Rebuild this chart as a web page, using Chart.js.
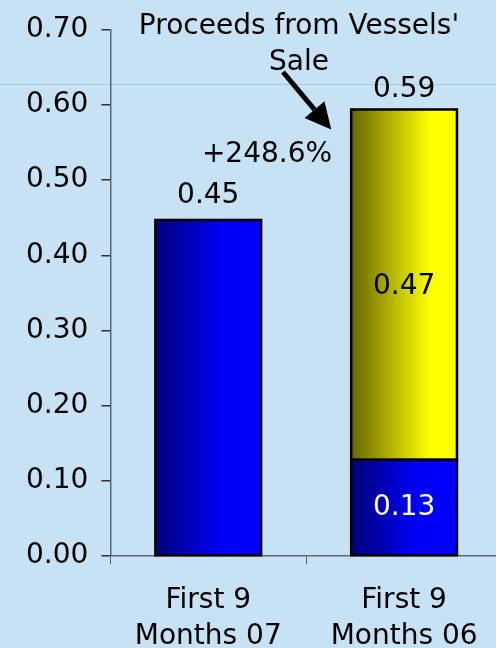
<!DOCTYPE html>
<html>
<head>
<meta charset="utf-8">
<script src="https://cdn.jsdelivr.net/npm/chart.js@4/dist/chart.umd.min.js"></script>
<style>
  html, body { margin: 0; padding: 0; background: #C6E2F4; width: 496px; height: 648px; overflow: hidden; }
  #wrap { position: absolute; left: 0; top: 0; width: 512px; height: 674px; }
</style>
</head>
<body>
<div id="wrap"><canvas id="chart" width="512" height="674"></canvas></div>
<script>
// Net income per share, first nine months
const categories = [['First 9', 'Months 07'], ['First 9', 'Months 06']];
const operatingValues = [0.447, 0.128];   // blue segments
const vesselSaleValues = [null, 0.466];   // yellow segment
const yMin = 0, yMax = 0.7, yStep = 0.1;
const growthText = '+248.6%';
const noteLines = ["Proceeds from Vessels'", 'Sale'];

const FONT = { family: '"DejaVu Sans", Verdana, sans-serif', size: 28 };
const FONT_CSS = '28px "DejaVu Sans", Verdana, sans-serif';
const BAR_PCT = 0.54;

function barGradient(ctx, stops) {
  const chart = ctx.chart;
  const xs = chart.scales.x;
  const fallback = stops[stops.length - 1][1];
  if (!xs || !(xs.width > 0)) return fallback;
  const cx = xs.getPixelForValue(ctx.dataIndex);
  const half = (xs.width / categories.length) * BAR_PCT / 2;
  if (!isFinite(cx) || !isFinite(half)) return fallback;
  const g = chart.ctx.createLinearGradient(cx - half, 0, cx + half, 0);
  stops.forEach(s => g.addColorStop(s[0], s[1]));
  return g;
}
const blueStops = [[0, '#00007A'], [0.62, '#0000F8'], [1, '#0000FF']];
const yellowStops = [[0, '#666600'], [0.75, '#FFFF00'], [1, '#FFFF00']];

const divider = {
  id: 'divider',
  beforeDraw(chart) {
    const c = chart.ctx;
    // slide divider line
    c.save();
    c.strokeStyle = '#A9CBE0';
    c.lineWidth = 1;
    c.beginPath();
    c.moveTo(0, 84.5);
    c.lineTo(chart.width, 84.5);
    c.stroke();
    c.restore();
  }
};

const labels = {
  id: 'labels',
  afterDatasetsDraw(chart) {
    const c = chart.ctx;
    c.save();

    // black outlines centred on each segment edge
    c.strokeStyle = '#000';
    c.lineWidth = 2.5;
    chart.data.datasets.forEach((ds, i) => {
      chart.getDatasetMeta(i).data.forEach((bar, j) => {
        if (ds.data[j] == null) return;
        const { x, y, base, width } = bar.getProps(['x', 'y', 'base', 'width'], true);
        c.strokeRect(x - width / 2, y, width, base - y);
      });
    });

    c.font = FONT_CSS;
    c.textAlign = 'center';
    const m0 = chart.getDatasetMeta(0).data;
    const m1 = chart.getDatasetMeta(1).data;

    // first period: single bar, total above
    const b0 = m0[0];
    c.fillStyle = '#000';
    c.textBaseline = 'alphabetic';
    c.fillText(operatingValues[0].toFixed(2), b0.x, b0.y - 17);

    // second period: stacked segments
    const lo = m0[1], hi = m1[1];
    c.textBaseline = 'middle';
    c.fillStyle = '#FFF';
    c.fillText(operatingValues[1].toFixed(2), lo.x, (lo.y + lo.base) / 2);
    c.fillStyle = '#000';
    c.fillText(vesselSaleValues[1].toFixed(2), hi.x, (hi.y + hi.base) / 2 + 2);
    c.textBaseline = 'alphabetic';
    const total = operatingValues[1] + vesselSaleValues[1];
    c.fillText(total.toFixed(2), hi.x, hi.y - 12);

    // growth and note
    c.fillText(growthText, 267, 162);
    c.fillText(noteLines[0], 299, 34);
    c.fillText(noteLines[1], 299, 70);

    // arrow toward the vessel-sale segment
    const tipX = hi.x - hi.width / 2 - 20, tipY = hi.y + 20;
    const tailX = 283, tailY = 72;
    const ang = Math.atan2(tipY - tailY, tipX - tailX);
    const headLen = 26, headW = 13;
    const bx = tipX - headLen * Math.cos(ang), by = tipY - headLen * Math.sin(ang);
    c.lineWidth = 5;
    c.beginPath();
    c.moveTo(tailX, tailY);
    c.lineTo(bx, by);
    c.stroke();
    c.beginPath();
    c.moveTo(tipX, tipY);
    c.lineTo(bx + headW * Math.sin(ang), by - headW * Math.cos(ang));
    c.lineTo(bx - headW * Math.sin(ang), by + headW * Math.cos(ang));
    c.closePath();
    c.fillStyle = '#000';
    c.fill();
    c.restore();
  }
};

new Chart(document.getElementById('chart'), {
  type: 'bar',
  data: {
    labels: categories,
    datasets: [
      {
        data: operatingValues,
        backgroundColor: ctx => barGradient(ctx, blueStops),
        borderWidth: 0
      },
      {
        data: vesselSaleValues,
        backgroundColor: ctx => barGradient(ctx, yellowStops),
        borderWidth: 0
      }
    ]
  },
  options: {
    responsive: false,
    animation: false,
    devicePixelRatio: 1,
    categoryPercentage: 1,
    barPercentage: BAR_PCT,
    layout: { padding: { left: 13, top: 25, right: 10, bottom: 0 } },
    plugins: { legend: { display: false }, tooltip: { enabled: false } },
    scales: {
      x: {
        stacked: true,
        grid: { drawOnChartArea: false, drawTicks: true, tickLength: 8, color: '#5E6670', offset: true },
        border: { display: true, color: '#5E6670', width: 1.5 },
        ticks: { color: '#000', font: { ...FONT, lineHeight: 36 / 28 }, padding: 19, maxRotation: 0 }
      },
      y: {
        stacked: true,
        min: yMin, max: yMax,
        grid: { drawOnChartArea: false, drawTicks: true, tickLength: 9, color: '#333', lineWidth: 1.5 },
        border: { display: true, color: '#5E6670', width: 1.5 },
        ticks: { stepSize: yStep, color: '#000', font: FONT, padding: 13, callback: v => v.toFixed(2) }
      }
    }
  },
  plugins: [divider, labels]
});
</script>
</body>
</html>
